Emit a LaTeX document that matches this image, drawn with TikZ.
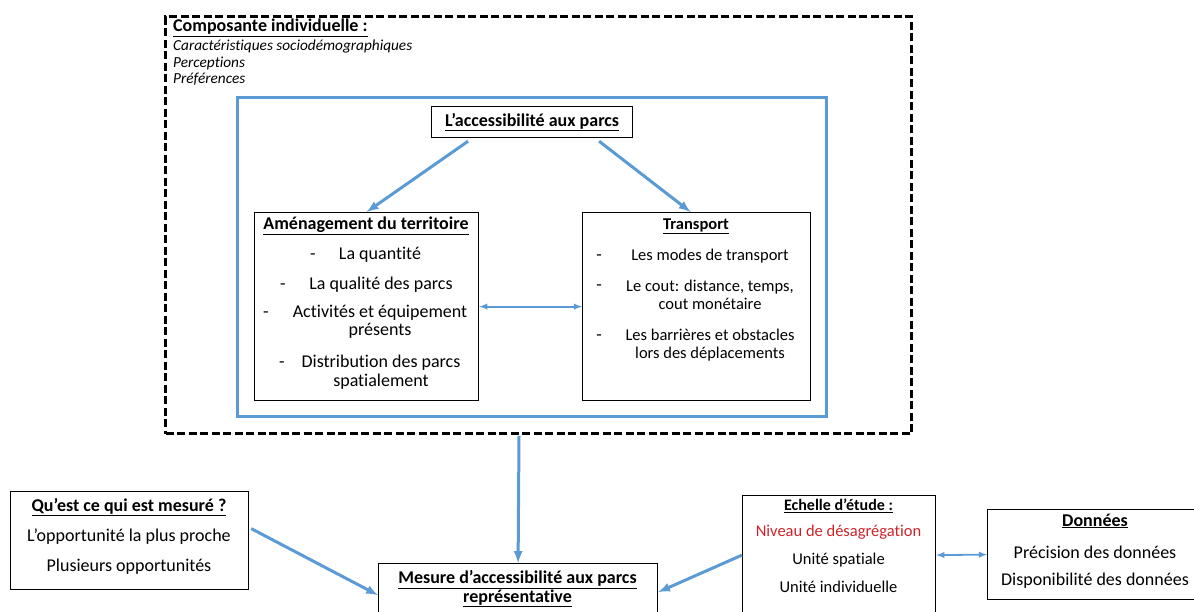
\documentclass[tikz,border=0pt]{standalone}
\usepackage{fontspec}
\setmainfont{Carlito}[Ligatures = NoCommon]
\usepackage{xcolor}
\usepackage{tikz}
\definecolor{bleu}{RGB}{91,155,213}
\definecolor{rouge}{RGB}{205,35,40}

\begin{document}
\begin{tikzpicture}[x = 1pt, y = -1pt,
  cadre/.style 2 args = {draw, line width = 1.2pt, anchor = north west, minimum width = #1, minimum height = #2, inner sep = 0pt},
  txt/.style = {font = \fontsize{18}{18.5}\selectfont, inner sep = 0pt, align = center},
  petit/.style = {txt, font = \fontsize{16.5}{18}\selectfont},
  titre/.style = {txt, font = \fontsize{18}{18.5}\selectfont\bfseries},
  tiret/.style = {txt, text height = 12pt, text depth = 3.5pt},
  fleche/.style = {bleu, line width = 3pt, -latex},
  lien/.style = {bleu, line width = 1.8pt, latex-latex}]
 \useasboundingbox (0, 0) rectangle (1194, 611);
 % cadres
 \node[cadre = {746pt}{417pt}, line width = 3pt, dash pattern = on 8pt off 3.5pt] (indiv) at (164, 15) {};
 \node[cadre = {589pt}{319pt}, bleu, line width = 3pt] (zone) at (236, 96) {};
 \node[cadre = {201pt}{31pt}, titre] (acc) at (431, 106) {\underline{L’accessibilité aux parcs}};
 \node[cadre = {224pt}{188pt}] (amen) at (254, 212) {};
 \node[cadre = {228pt}{188pt}] (trans) at (582, 212) {};
 \node[cadre = {238pt}{98pt}] (quest) at (10, 491) {};
 \node[cadre = {279pt}{57pt}] (mesure) at (378, 563) {};
 \node[cadre = {193pt}{119pt}] (echelle) at (742, 495) {};
 \node[cadre = {210pt}{90pt}] (donnees) at (987, 509) {};
 % composante individuelle
 \node[titre, anchor = west] (indiv-titre) at (173, 28) {\underline{Composante individuelle :}};
 \node[anchor = north west, inner sep = 0pt, align = left, font = \fontsize{15.3}{16.5}\selectfont\itshape] (indiv-liste) at (173, 40) {Caractéristiques sociodémographiques\\Perceptions\\Préférences};
 % amenagement et transport
 \node[titre] (amen-titre) at (366, 226) {\underline{Aménagement du territoire}};
 \foreach \dx/\dy/\tx/\ty/\texte [count = \i] in {313/255/380/255/La quantité, 283/285/381/285/La qualité des parcs, 266/313/380/322/{Activités et équipement\\présents}, 282/363/381/372/{Distribution des parcs\\spatialement}}{
  \node[tiret] (amen-tiret-\i) at (\dx, \dy) {-};
  \node[txt] (amen-item-\i) at (\tx, \ty) {\texte};
 }
 \node[titre, font = \fontsize{16.5}{18}\selectfont\bfseries] (trans-titre) at (696, 226) {\underline{Transport}};
 \foreach \dy/\ty/\texte [count = \i] in {256/256/Les modes de transport, 286/295/{Le cout: distance, temps,\\cout monétaire}, 336/345/{Les barrières et obstacles\\lors des déplacements}}{
  \node[tiret] (trans-tiret-\i) at (599, \dy) {-};
  \node[petit] (trans-item-\i) at (710, \ty) {\texte};
 }
 % bas
 \node[titre] (quest-titre) at (129, 507) {\underline{Qu’est ce qui est mesuré ?}};
 \node[txt] (quest-1) at (129, 537) {L’opportunité la plus proche};
 \node[txt] (quest-2) at (129, 567) {Plusieurs opportunités};
 \node[titre] (mesure-titre) at (517.5, 589) {\underline{Mesure d’accessibilité aux parcs}\\\underline{représentative}};
 \node[titre, font = \fontsize{16}{18}\selectfont\bfseries] (echelle-titre) at (838.5, 506) {\underline{Echelle d’étude :}};
 \node[petit, rouge] (echelle-1) at (838.5, 532) {Niveau de désagrégation};
 \node[petit] (echelle-2) at (838.5, 560) {Unité spatiale};
 \node[petit] (echelle-3) at (838.5, 587) {Unité individuelle};
 \node[titre] (donnees-titre) at (1095, 521) {\underline{Données}};
 \node[txt] (donnees-1) at (1095, 552) {Précision des données};
 \node[txt] (donnees-2) at (1095, 581) {Disponibilité des données};
 % fleches
 \draw[fleche] ([xshift = -64pt, yshift = -3pt]acc.south) -- (amen.north);
 \draw[fleche] ([xshift = 67pt, yshift = -3pt]acc.south) -- ([xshift = -6pt]trans.north);
 \draw[lien] (amen.east) -- (trans.west);
 \draw[fleche] ([xshift = -19.5pt, yshift = -1pt]indiv.south) -- (mesure.north);
 \draw[fleche] ([xshift = 2pt, yshift = 12pt]quest.east) -- ([yshift = -3pt]mesure.west);
 \draw[fleche] (echelle.west) -- (mesure.east);
 \draw[lien] (echelle.east) -- (donnees.west);
\end{tikzpicture}
\end{document}
